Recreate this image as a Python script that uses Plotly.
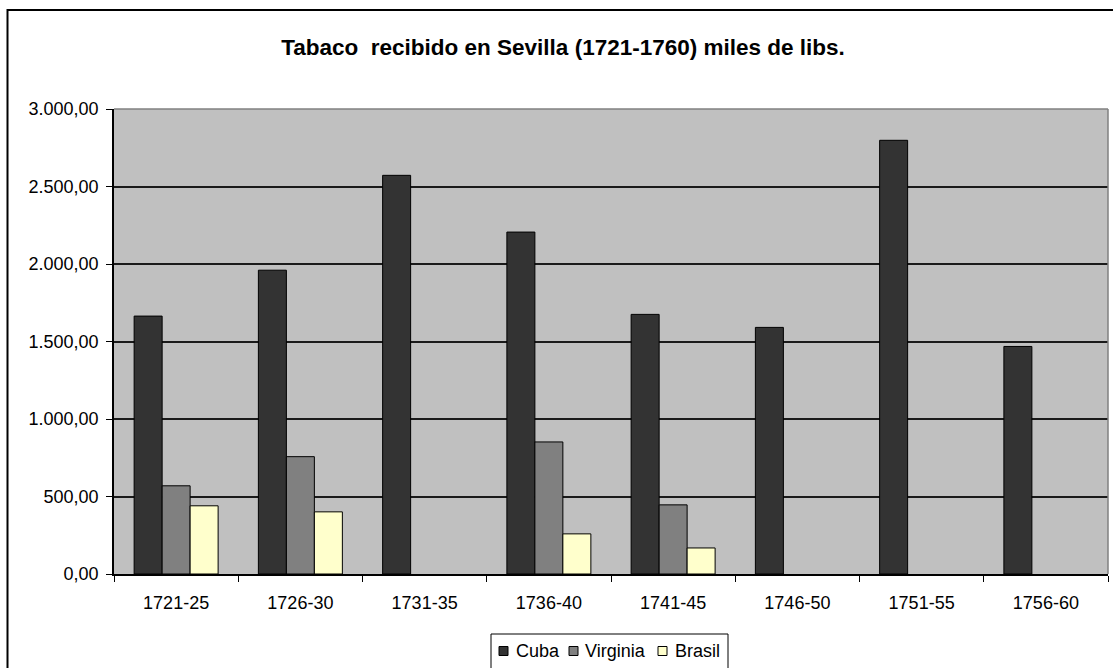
import plotly.graph_objects as go

periods = ["1721-25", "1726-30", "1731-35", "1736-40", "1741-45", "1746-50", "1751-55", "1756-60"]
cuba = [1664, 1960, 2572, 2206, 1675, 1591, 2798, 1468]
virginia = [569, 757, None, 852, 446, None, None, None]
brasil = [440, 401, None, 259, 168, None, None, None]

series_names = ["Cuba", "Virginia", "Brasil"]
series_values = [cuba, virginia, brasil]
series_colors = ["#333333", "#808080", "#FFFFCC"]

FONT = "Liberation Sans, Arial, sans-serif"
W, H = 1113, 668
ML, MR, MT, MB = 114, 5, 109, 94
PW, PH = W - ML - MR, H - MT - MB


def px(x):
    return (x - ML) / PW


def py(y):
    return (H - MB - y) / PH


fig = go.Figure()
for name, vals, col in zip(series_names, series_values, series_colors):
    fig.add_trace(go.Bar(name=name, x=periods, y=vals, showlegend=False,
                         marker=dict(color=col, line=dict(color="black", width=1))))

fig.update_layout(
    width=W, height=H,
    margin=dict(l=ML, r=MR, t=MT, b=MB),
    paper_bgcolor="white", plot_bgcolor="#C0C0C0",
    barmode="group", bargap=0.324, bargroupgap=0,
    separators=",.",
    font=dict(family=FONT, size=18, color="black"),
    title=dict(text="<b>Tabaco  recibido en Sevilla (1721-1760) miles de libs.</b>",
               x=563 / W, xref="container", xanchor="center",
               y=1 - 47 / H, yref="container", yanchor="middle",
               font=dict(family=FONT, size=22.5, color="black")),
    showlegend=False,
)
fig.update_xaxes(type="category", showgrid=False, showline=True, linecolor="black", linewidth=1.5,
                 ticks="outside", tickson="boundaries", ticklen=6, tickcolor="black",
                 ticklabelstandoff=12,
                 tickfont=dict(family=FONT, size=18))
fig.update_yaxes(range=[0, 3000], tickvals=[0, 500, 1000, 1500, 2000, 2500, 3000],
                 tickformat=",.2f", showgrid=True, gridcolor="#1a1a1a", gridwidth=1.5,
                 showline=True, linecolor="black", linewidth=1.5, zeroline=False,
                 ticks="outside", ticklen=6, tickcolor="black", ticklabelstandoff=4,
                 tickfont=dict(family=FONT, size=18))

# plot area top/right frame (gray)
fig.add_shape(type="line", xref="paper", yref="paper", x0=0, x1=1, y0=1, y1=1,
              line=dict(color="#808080", width=1.5))
fig.add_shape(type="line", xref="paper", yref="paper", x0=1, x1=1, y0=0, y1=1,
              line=dict(color="#808080", width=1.5))
# outer chart border
fig.add_shape(type="rect", xref="paper", yref="paper",
              x0=px(7.5), x1=px(1125), y0=py(690), y1=py(10),
              line=dict(color="black", width=2), fillcolor="rgba(0,0,0,0)")

# legend (Excel style, compact)
fig.add_shape(type="rect", xref="paper", yref="paper",
              x0=px(491), x1=px(728), y0=py(680), y1=py(634),
              line=dict(color="black", width=1), fillcolor="white")
sq_left = [499, 569, 658]
txt_left = [514, 583, 673]
cy = 651
for name, col, sx, tx in zip(series_names, series_colors, sq_left, txt_left):
    fig.add_shape(type="rect", xref="paper", yref="paper",
                  x0=px(sx), x1=px(sx + 9), y0=py(cy + 4.5), y1=py(cy - 4.5),
                  line=dict(color="black", width=1), fillcolor=col)
    fig.add_annotation(text=name, xref="paper", yref="paper", x=px(tx), y=py(cy),
                       xanchor="left", yanchor="middle", showarrow=False,
                       font=dict(family=FONT, size=18, color="black"))

fig.write_html("out.html", config={"displayModeBar": False},
               post_script="document.body.style.margin='0';document.body.style.overflow='hidden';")
